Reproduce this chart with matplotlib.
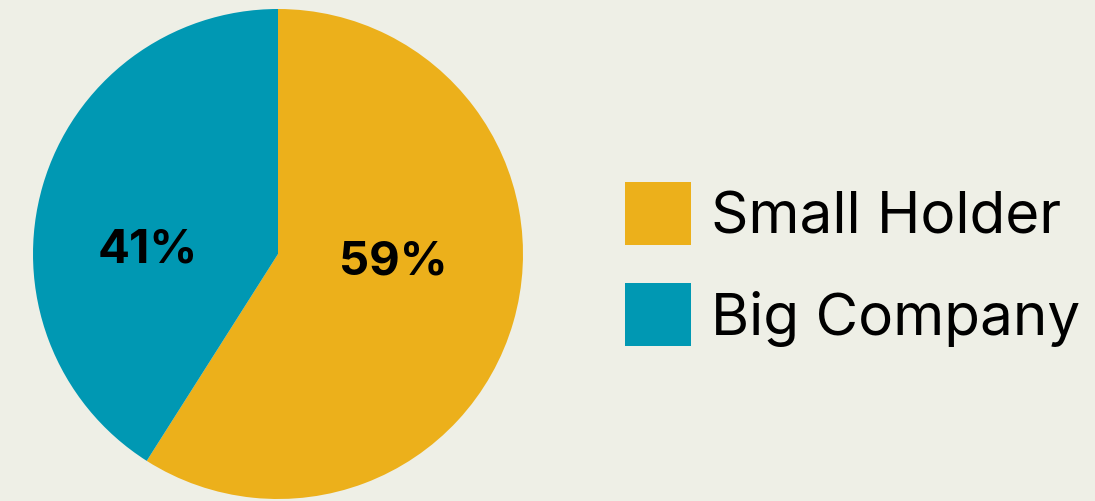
import matplotlib.pyplot as plt
from matplotlib.patches import Patch

labels = ['Small Holder', 'Big Company']
shares = [59, 41]
colors = ['#ECB01B', '#0098B3']
bg = '#EEEFE6'

plt.rcParams['font.family'] = ['Inter', 'DejaVu Sans']

fig = plt.figure(figsize=(10.95, 5.02), dpi=100, facecolor=bg)

# pie centred at ~(278, 256) px with radius ~245 px
ax = fig.add_axes([33 / 1095, 2 / 502, 490 / 1095, 490 / 502])
ax.set_facecolor(bg)
wedges, texts, pcts = ax.pie(shares, colors=colors, startangle=90, counterclock=False,
                             autopct='%.0f%%', pctdistance=0.5,
                             textprops=dict(fontsize=34, fontweight='bold', color='black'))
# nudge the percentage labels toward where they sit in the chart
pcts[0].set_position((0.47, -0.03))
pcts[1].set_position((-0.53, 0.02))
ax.set_xlim(-1, 1)
ax.set_ylim(-1, 1)
ax.set_aspect('equal')

handles = [Patch(facecolor=c, edgecolor='none') for c in colors]
fig.legend(handles, labels, loc='upper left', bbox_to_anchor=(625 / 1095, 1 - 183 / 502),
           frameon=False, fontsize=42, handlelength=1.13, handleheight=1.28,
           handletextpad=0.35, labelspacing=0.65, borderpad=0, borderaxespad=0)

fig.savefig('out.png', dpi=100, facecolor=bg)
